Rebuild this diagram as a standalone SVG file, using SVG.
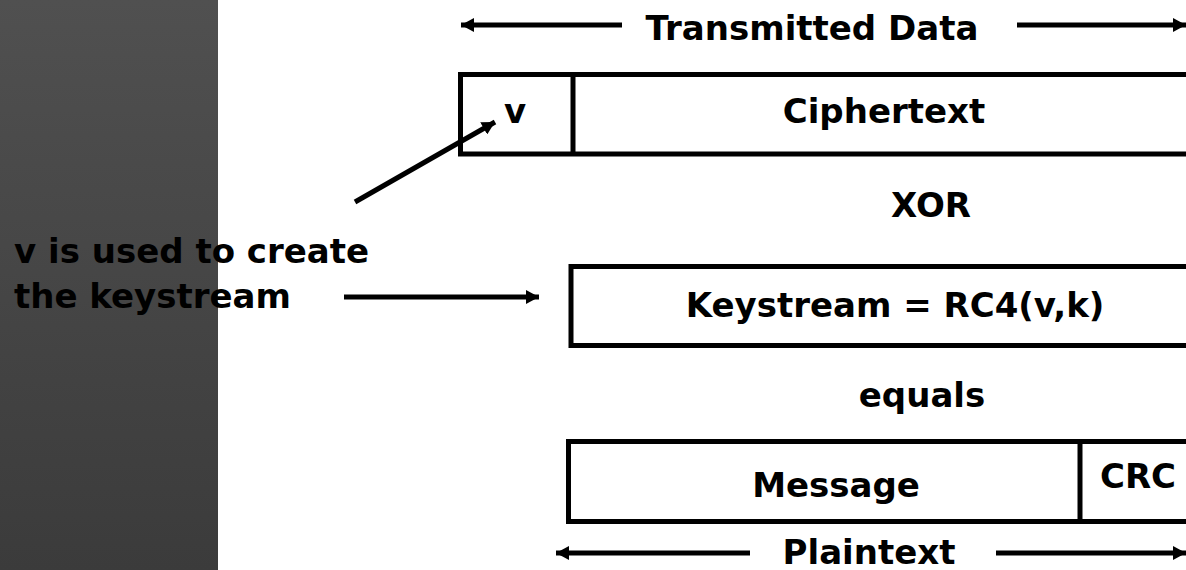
<svg xmlns="http://www.w3.org/2000/svg" width="1186" height="570" viewBox="0 0 1186 570">
<defs>
<linearGradient id="panel" x1="0" y1="0" x2="0" y2="1">
<stop offset="0" stop-color="#505050"/>
<stop offset="1" stop-color="#3b3b3b"/>
</linearGradient>
<marker id="ah" markerUnits="userSpaceOnUse" markerWidth="14" markerHeight="14" refX="13" refY="7" orient="auto">
<path d="M0,0 L13,7 L0,14 Z" fill="#000"/>
</marker>
<style>
text{font-family:"DejaVu Sans","Liberation Sans",sans-serif;font-weight:bold;font-size:34px;fill:#000}
.c{text-anchor:middle}
.box{fill:none;stroke:#000;stroke-width:5}
.ln{stroke:#000;stroke-width:5;fill:none}
</style>
</defs>
<rect x="0" y="0" width="1186" height="570" fill="#fff"/>
<rect id="panel-bg" x="0" y="0" width="218" height="570" fill="url(#panel)"/>
<g id="connectors">
<line class="ln" x1="622" y1="25" x2="461" y2="25" marker-end="url(#ah)"/>
<line class="ln" x1="1017" y1="25" x2="1186" y2="25" marker-end="url(#ah)"/>
<line class="ln" x1="355" y1="202" x2="495" y2="122" marker-end="url(#ah)"/>
<line class="ln" x1="344" y1="297" x2="539" y2="297" marker-end="url(#ah)"/>
<line class="ln" x1="750" y1="553" x2="556" y2="553" marker-end="url(#ah)"/>
<line class="ln" x1="996" y1="553" x2="1186" y2="553" marker-end="url(#ah)"/>
</g>
<g id="transmitted-label"><text class="c" x="812" y="40">Transmitted Data</text></g>
<g id="ciphertext-box">
<path class="box" d="M1200,74.5 H460.5 V154 H1200"/>
<line class="ln" x1="573" y1="74.5" x2="573" y2="154"/>
<text class="c" x="515" y="123">v</text>
<text class="c" x="884" y="123">Ciphertext</text>
</g>
<g id="xor-label"><text class="c" x="931" y="217">XOR</text></g>
<g id="note">
<text x="14" y="263">v is used to create</text>
<text x="14" y="308">the keystream</text>
</g>
<g id="keystream-box">
<path class="box" d="M1200,266.5 H571 V345.5 H1200"/>
<text class="c" x="895" y="317">Keystream = RC4(v,k)</text>
</g>
<g id="equals-label"><text class="c" x="922" y="407">equals</text></g>
<g id="plaintext-box">
<path class="box" d="M1200,441.5 H568.5 V521.5 H1200"/>
<line class="ln" x1="1080" y1="441.5" x2="1080" y2="521.5"/>
<text class="c" x="836" y="497">Message</text>
<text class="c" x="1138" y="488">CRC</text>
</g>
<g id="plaintext-label"><text class="c" x="869" y="564">Plaintext</text></g>
</svg>
